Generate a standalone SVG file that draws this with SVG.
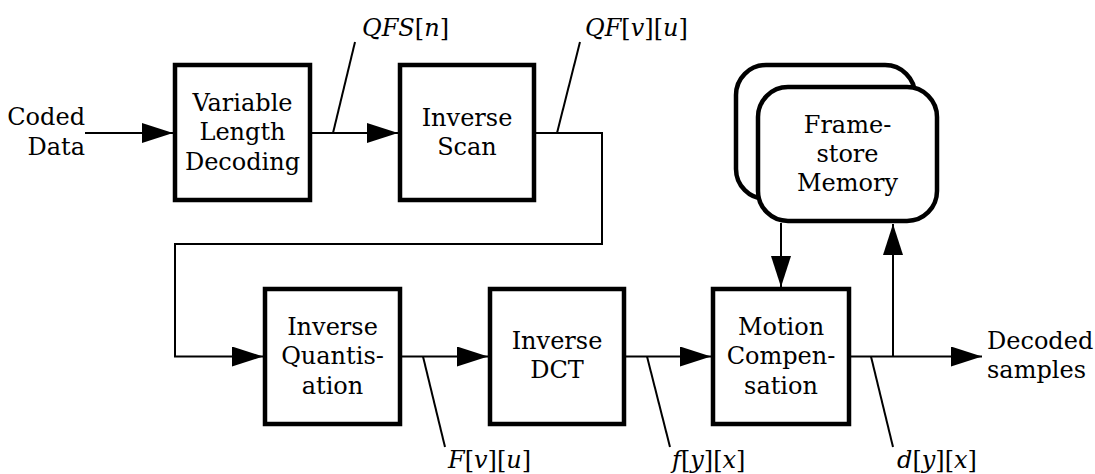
<svg xmlns="http://www.w3.org/2000/svg" width="1095" height="474" viewBox="0 0 1095 474">
<style>
.box{fill:#fff;stroke:#000;stroke-width:4.5}
.ln{fill:none;stroke:#000;stroke-width:2}
text{font-family:"DejaVu Serif",serif;font-size:24px;fill:#000}
.c{text-anchor:middle}
.i{font-style:italic}
</style>
<defs>
<marker id="ah" markerUnits="userSpaceOnUse" markerWidth="32" markerHeight="20" refX="31" refY="10" orient="auto">
<path d="M0,0 L31,10 L0,20 z" fill="#000"/>
</marker>
</defs>
<rect width="1095" height="474" fill="#fff"/>
<g id="connectors">
<line class="ln" x1="85" y1="133" x2="173" y2="133" marker-end="url(#ah)"/>
<line class="ln" x1="312" y1="133" x2="398" y2="133" marker-end="url(#ah)"/>
<polyline class="ln" points="536,133 602,133 602,244 175,244 175,356.5 263,356.5" marker-end="url(#ah)"/>
<line class="ln" x1="402" y1="356.5" x2="488" y2="356.5" marker-end="url(#ah)"/>
<line class="ln" x1="626" y1="356.5" x2="711" y2="356.5" marker-end="url(#ah)"/>
<line class="ln" x1="851" y1="356.5" x2="982" y2="356.5" marker-end="url(#ah)"/>
<line class="ln" x1="893" y1="356.5" x2="893" y2="224" marker-end="url(#ah)"/>
<line class="ln" x1="781" y1="223" x2="781" y2="287" marker-end="url(#ah)"/>
<line class="ln" x1="333" y1="133" x2="355" y2="42"/>
<line class="ln" x1="557" y1="133" x2="580" y2="42"/>
<line class="ln" x1="423" y1="356.5" x2="445" y2="447"/>
<line class="ln" x1="647" y1="356.5" x2="670" y2="447"/>
<line class="ln" x1="871" y1="356.5" x2="893" y2="447"/>
</g>
<g id="labels">
<text x="85" y="125" text-anchor="end">Coded</text>
<text x="85" y="155" text-anchor="end">Data</text>
<text x="987" y="349">Decoded</text>
<text x="987" y="378">samples</text>
<text x="362" y="36"><tspan class="i">QFS</tspan>[<tspan class="i">n</tspan>]</text>
<text x="585" y="36"><tspan class="i">QF</tspan>[<tspan class="i">v</tspan>][<tspan class="i">u</tspan>]</text>
<text x="448" y="468"><tspan class="i">F</tspan>[<tspan class="i">v</tspan>][<tspan class="i">u</tspan>]</text>
<text x="672" y="468"><tspan class="i">f</tspan>[<tspan class="i">y</tspan>][<tspan class="i">x</tspan>]</text>
<text x="897" y="468"><tspan class="i">d</tspan>[<tspan class="i">y</tspan>][<tspan class="i">x</tspan>]</text>
</g>
<g id="vld">
<rect class="box" x="175" y="65" width="135" height="135"/>
<text class="c" x="242.5" y="110.5">Variable</text>
<text class="c" x="242.5" y="140">Length</text>
<text class="c" x="242.5" y="169.5">Decoding</text>
</g>
<g id="iscan">
<rect class="box" x="400" y="65" width="134" height="135"/>
<text class="c" x="467" y="125.5">Inverse</text>
<text class="c" x="467" y="155">Scan</text>
</g>
<g id="iquant">
<rect class="box" x="265" y="289" width="135" height="135"/>
<text class="c" x="332.5" y="334.5">Inverse</text>
<text class="c" x="332.5" y="364">Quantis-</text>
<text class="c" x="332.5" y="393.5">ation</text>
</g>
<g id="idct">
<rect class="box" x="490" y="289" width="134" height="135"/>
<text class="c" x="557" y="348.5">Inverse</text>
<text class="c" x="557" y="378">DCT</text>
</g>
<g id="mc">
<rect class="box" x="713" y="289" width="136" height="135"/>
<text class="c" x="781" y="334.5">Motion</text>
<text class="c" x="781" y="364">Compen-</text>
<text class="c" x="781" y="393.5">sation</text>
</g>
<g id="framestore">
<rect class="box" x="736" y="65" width="179" height="134" rx="30" ry="30"/>
<rect class="box" x="758" y="87" width="179" height="134" rx="30" ry="30"/>
<text class="c" x="847.5" y="133">Frame-</text>
<text class="c" x="847.5" y="162">store</text>
<text class="c" x="847.5" y="191">Memory</text>
</g>
</svg>
